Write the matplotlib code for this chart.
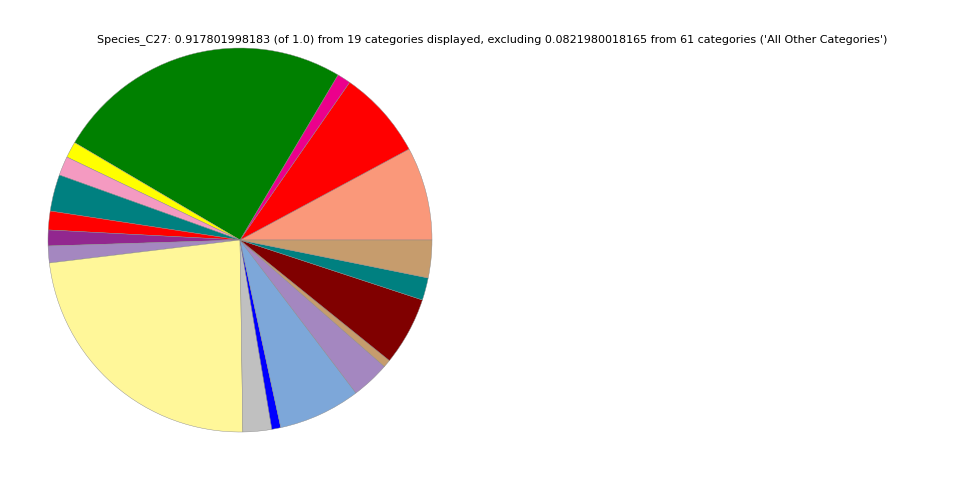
import matplotlib
matplotlib.use("Agg")
import matplotlib.pyplot as plt

# Fractions, in drawing order (counter-clockwise from 3 o'clock)
values = [0.0721, 0.0686, 0.0105, 0.2300, 0.0125, 0.0148, 0.0283, 0.0145, 0.0122, 0.0130,
          0.2141, 0.0222, 0.0069, 0.0635, 0.0296, 0.0059, 0.0528, 0.0173, 0.0291]
colors = ['#FA987A', '#FF0000', '#EC008C', '#008000', '#FFFF00', '#F49AC1', '#008080',
          '#FF0000', '#92278F', '#A487C0', '#FFF799', '#C0C0C0', '#0000FF', '#7DA7D9',
          '#A487C0', '#C69C6D', '#800000', '#008080', '#C69C6D']

title = ("Species_C27: 0.917801998183 (of 1.0) from 19 categories displayed, "
         "excluding 0.0821980018165 from 61 categories ('All Other Categories')")

fig = plt.figure(figsize=(9.6, 4.8), dpi=100)
ax = fig.add_axes([48 / 960, 48 / 480, 384 / 960, 384 / 480])
ax.pie(values, colors=colors, startangle=0, counterclock=True,
       wedgeprops={'linewidth': 0.3, 'edgecolor': '#888888'})
ax.set_xlim(-1, 1)
ax.set_ylim(-1, 1)
ax.set_aspect('equal')
ax.axis('off')

fig.text(492 / 960, 1 - 40 / 480, title, ha='center', va='center', fontsize=8)

fig.savefig("out.png", dpi=100)
